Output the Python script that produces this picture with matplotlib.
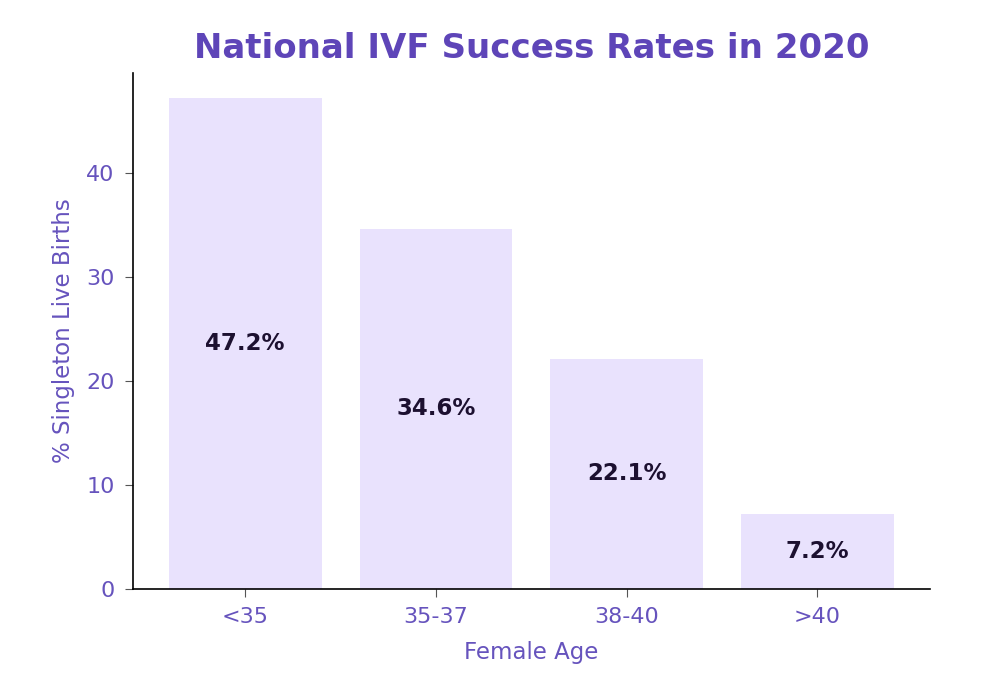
import matplotlib
matplotlib.use("Agg")
import matplotlib.pyplot as plt

# --- Données ---
ages = ["<35", "35-37", "38-40", ">40"]
rates = [47.2, 34.6, 22.1, 7.2]

PURPLE = "#6653bd"
BAR_COLOR = "#e9e2fd"

fig, ax = plt.subplots(figsize=(9.83, 6.79), dpi=100)
fig.subplots_adjust(left=0.135, right=0.946, top=0.892, bottom=0.133)

bars = ax.bar(ages, rates, color=BAR_COLOR, width=0.8)
ax.set_ylim(0, max(rates) * 1.05)

for b, v in zip(bars, rates):
    ax.text(b.get_x() + b.get_width() / 2, v / 2, f"{v}%",
            ha="center", va="center", fontsize=16.5, fontweight="bold",
            color="#1c1030")

ax.set_title("National IVF Success Rates in 2020", fontsize=24.5,
             fontweight="bold", color="#5e45b8", pad=11)
ax.set_xlabel("Female Age", fontsize=16.5, color=PURPLE, labelpad=10)
ax.set_ylabel("% Singleton Live Births", fontsize=16.5, color=PURPLE, labelpad=8)
ax.tick_params(axis="both", labelsize=16, labelcolor=PURPLE,
               color="#555555", length=6, pad=7)

ax.spines["top"].set_visible(False)
ax.spines["right"].set_visible(False)
ax.spines["left"].set_linewidth(1.2)
ax.spines["bottom"].set_linewidth(1.2)

fig.savefig("out.png", dpi=100)
